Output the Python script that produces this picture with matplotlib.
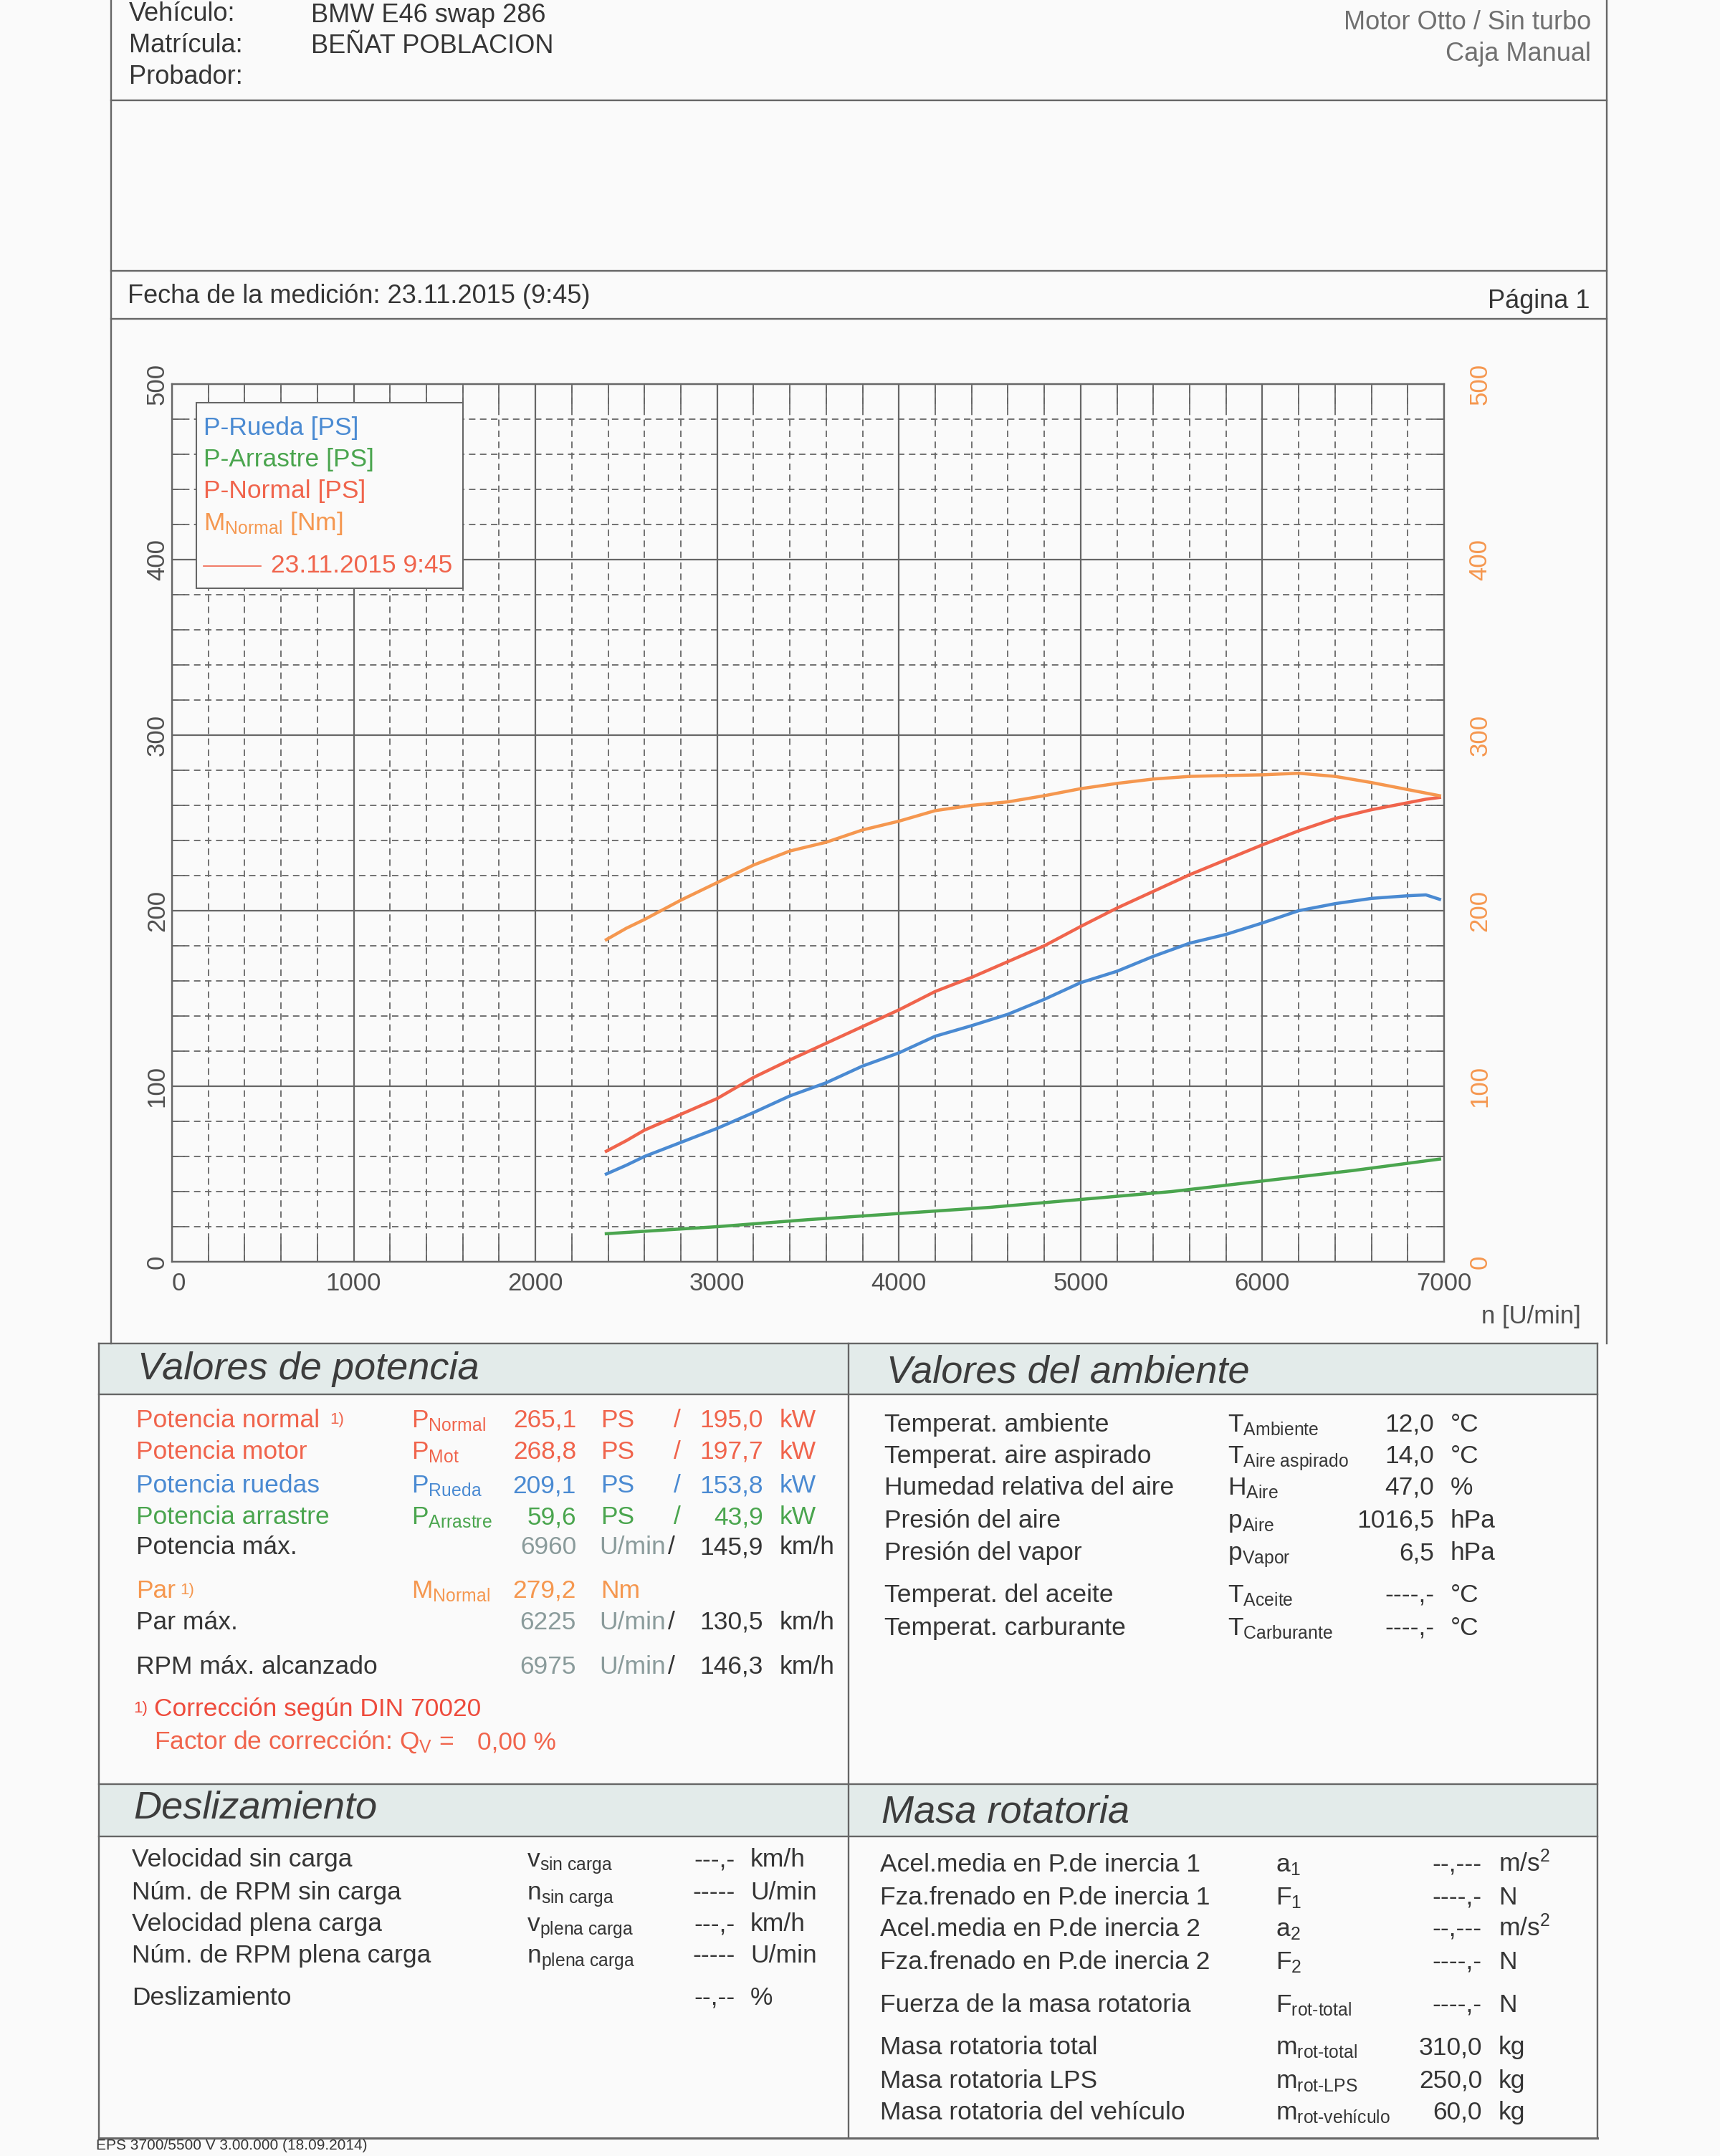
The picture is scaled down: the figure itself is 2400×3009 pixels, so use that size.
import matplotlib.pyplot as plt
from matplotlib.lines import Line2D
from matplotlib.patches import Rectangle
from matplotlib.ticker import MultipleLocator

plt.rcParams['font.family'] = ['Liberation Sans', 'DejaVu Sans']
plt.rcParams['mathtext.fontset'] = 'custom'
plt.rcParams['mathtext.rm'] = 'Liberation Sans'
plt.rcParams['mathtext.it'] = 'Liberation Sans:italic'
plt.rcParams['mathtext.bf'] = 'Liberation Sans:bold'
plt.rcParams['mathtext.default'] = 'regular'

# --- curve values ---
rpm = [2390, 2500, 2600, 2800, 3000, 3200, 3400, 3600, 3800, 4000, 4200, 4400,
       4600, 4800, 5000, 5200, 5400, 5600, 5800, 6000, 6200, 6400, 6600, 6800,
       6900, 6975]
p_normal = [63, 69, 75, 84, 93, 105, 115, 124.5, 134, 143.5, 154, 162,
            171, 180, 191, 201.5, 211, 220.5, 229, 237.5, 245.5, 252.5, 257.5, 261.5,
            263.5, 264.5]
p_rueda = [50, 55, 60, 68, 76, 85, 94.5, 102, 111.5, 119, 128.5, 134.5,
           141, 149.5, 159, 165.5, 174, 181.5, 186.5, 193, 200, 204, 207, 208.5,
           209, 206.5]
m_normal = [183.5, 190, 195, 206, 216, 226, 234, 239, 246, 251, 257, 260,
            262, 265.5, 269.5, 272.5, 275, 276.5, 277, 277.4, 278.3, 276.5, 273, 269,
            267, 265.5]
rpm_arr = [2390, 3000, 3500, 4000, 4500, 5000, 5500, 6000, 6500, 6975]
p_arrastre = [16, 20, 24, 27.5, 31, 35.5, 40, 46, 52, 58.5]

x_ticks = [0, 1000, 2000, 3000, 4000, 5000, 6000, 7000]
y_ticks = [0, 100, 200, 300, 400, 500]

legend_labels = ['P-Rueda [PS]', 'P-Arrastre [PS]', 'P-Normal [PS]', r'M$_{Normal}$ [Nm]']
run_label = '23.11.2015 9:45'

# colours
BG = '#fafafa'
DARK = '#353535'
GRID = '#666666'
RED = '#f0644c'
RED2 = '#ee4b3c'
BLUE = '#4a8ad2'
GREEN = '#4aa54e'
ORANGE = '#f5974f'
GRAYV = '#8a9b9b'
BAND = '#e3ebea'

W, H = 2400, 3009
fig = plt.figure(figsize=(24, 30.09), dpi=100, facecolor=BG)


def put(x, y, s, size=25.5, color=DARK, ha='left', **kw):
    # x, y in reference pixels (y from top, y = vertical centre of the text)
    fig.text(x / W, 1 - (y + 12) / H, s, fontsize=size, color=color, ha=ha,
             va='baseline', **kw)


def line(x0, y0, x1, y1, lw=1.7, color='#666666'):
    fig.add_artist(Line2D([x0 / W, x1 / W], [1 - y0 / H, 1 - y1 / H],
                          transform=fig.transFigure, color=color, lw=lw))


def band(x0, y0, x1, y1):
    fig.add_artist(Rectangle((x0 / W, 1 - y1 / H), (x1 - x0) / W, (y1 - y0) / H,
                             transform=fig.transFigure, facecolor=BAND,
                             edgecolor='none', zorder=0))


# ---- page header ----
line(155, 0, 155, 1875)
line(2242, 0, 2242, 1875)
line(155, 140, 2242, 140)
line(155, 378, 2242, 378)
line(155, 445, 2242, 445)

put(180, 17, 'Vehículo:', 26)
put(180, 61, 'Matrícula:', 26)
put(180, 105, 'Probador:', 26)
put(434, 19, 'BMW E46 swap 286', 26)
put(434, 62, 'BEÑAT POBLACION', 26)
put(2220, 29, 'Motor Otto / Sin turbo', 26, color='#707070', ha='right')
put(2220, 73, 'Caja Manual', 26, color='#707070', ha='right')
put(178, 411, 'Fecha de la medición: 23.11.2015 (9:45)', 26)
put(2218, 418, 'Página 1', 26, ha='right')

# ---- chart ----
ax = fig.add_axes([240 / W, 1 - 1761 / H, (2015 - 240) / W, (1761 - 536) / H])
ax.set_facecolor(BG)
ax.set_xlim(0, 7000)
ax.set_ylim(0, 500)
ax.xaxis.set_major_locator(MultipleLocator(1000))
ax.xaxis.set_minor_locator(MultipleLocator(200))
ax.yaxis.set_major_locator(MultipleLocator(100))
ax.yaxis.set_minor_locator(MultipleLocator(20))
ax.set_axisbelow(True)
ax.grid(which='major', color=GRID, lw=1.6, ls='-')
ax.grid(which='minor', color=GRID, lw=1.3, ls=(0, (5, 3.5)))
for sp in ax.spines.values():
    sp.set_color(GRID)
    sp.set_linewidth(1.7)

ax.plot(rpm, p_rueda, color=BLUE, lw=3.2, zorder=3)
ax.plot(rpm_arr, p_arrastre, color=GREEN, lw=3.2, zorder=3)
ax.plot(rpm, p_normal, color=RED, lw=3.2, zorder=3)

ax2 = ax.twinx()
ax2.set_ylim(0, 500)
ax2.set_yticks(y_ticks)
ax2.plot(rpm, m_normal, color=ORANGE, lw=3.2, zorder=3)
for sp in ax2.spines.values():
    sp.set_visible(False)
ax2.tick_params(axis='y', length=0, pad=24, labelsize=25, labelcolor=ORANGE)
for lbl in ax2.get_yticklabels():
    lbl.set_rotation(90)
    lbl.set_va('center')

ax.set_xticks(x_ticks)
ax.set_yticks(y_ticks)
ax.tick_params(axis='both', which='major', length=0, labelsize=25,
               labelcolor='#505050')
ax.tick_params(axis='x', which='major', pad=10)
ax.tick_params(axis='y', which='major', pad=3)
ax.tick_params(axis='x', which='minor', direction='in', length=25, width=1.3,
               color=GRID, top=True, bottom=True)
ax.tick_params(axis='y', which='minor', direction='in', length=13, width=1.3,
               color=GRID, left=True, right=True)
for lbl in ax.get_yticklabels():
    lbl.set_rotation(90)
    lbl.set_va('center')
ax.get_xticklabels()[0].set_ha('left')

fig.text(2206 / W, 1 - 1837 / H, 'n [U/min]', fontsize=25, color='#505050',
         ha='right', va='center')

# legend box
ax.add_patch(Rectangle((0.019, 0.767), 0.210, 0.212, transform=ax.transAxes,
                       facecolor=BG, edgecolor='#666666', lw=1.5, zorder=5))
leg_colors = [BLUE, GREEN, RED, ORANGE]
leg_y = [0.950, 0.914, 0.878, 0.841]
for lab, c, yy in zip(legend_labels, leg_colors, leg_y):
    ax.text(0.025, yy, lab, transform=ax.transAxes, fontsize=25.5, color=c,
            va='center', zorder=6)
ax.plot([0.025, 0.070], [0.793, 0.793], transform=ax.transAxes, color=RED,
        lw=1.2, zorder=6)
ax.text(0.078, 0.793, run_label, transform=ax.transAxes, fontsize=25.5,
        color=RED, va='center', zorder=6)

# ---- lower tables frame ----
band(138, 1875, 2229, 1946)
band(138, 2490, 2229, 2563)
line(138, 1875, 2229, 1875)
line(138, 1946, 2229, 1946)
line(138, 2490, 2229, 2490)
line(138, 2563, 2229, 2563)
line(138, 2984, 2229, 2984, lw=2.2)
line(138, 1875, 138, 2984)
line(2229, 1875, 2229, 2984)
line(1184, 1875, 1184, 2984)

for x, y, s in [(192, 1911, 'Valores de potencia'), (1237, 1915, 'Valores del ambiente'),
                (186, 2523, 'Deslizamiento'), (1230, 2529, 'Masa rotatoria')]:
    fig.text(x / W, 1 - y / H, s, fontsize=39, style='italic', color='#3c3c3c',
             va='center')

# Valores de potencia
pow_rows = [
    (1980, 'Potencia normal', r'P$_{Normal}$', '265,1', 'PS', '195,0', 'kW', RED),
    (2024, 'Potencia motor', r'P$_{Mot}$', '268,8', 'PS', '197,7', 'kW', RED),
    (2071, 'Potencia ruedas', r'P$_{Rueda}$', '209,1', 'PS', '153,8', 'kW', BLUE),
    (2115, 'Potencia arrastre', r'P$_{Arrastre}$', '59,6', 'PS', '43,9', 'kW', GREEN),
]
for y, lab, sym, v1, u1, v2, u2, c in pow_rows:
    put(190, y, lab, color=c)
    put(574, y, sym, color=c)
    put(804, y, v1, color=c, ha='right')
    put(838, y, u1, color=c)
    put(940, y, '/', color=c)
    put(1065, y, v2, color=c, ha='right')
    put(1088, y, u2, color=c)
put(460, 1975, '1)', size=16, color=RED)

rpm_rows = [
    (2157, 'Potencia máx.', '6960', '145,9'),
    (2262, 'Par máx.', '6225', '130,5'),
    (2324, 'RPM máx. alcanzado', '6975', '146,3'),
]
for y, lab, n, v in rpm_rows:
    put(190, y, lab)
    put(804, y, n, color=GRAYV, ha='right')
    put(836, y, 'U/min', color=GRAYV)
    put(932, y, '/')
    put(1065, y, v, ha='right')
    put(1088, y, 'km/h')

put(190, 2218, 'Par', color=ORANGE)
put(251, 2213, '1)', size=16, color=ORANGE)
put(574, 2218, r'M$_{Normal}$', color=ORANGE)
put(804, 2218, '279,2', color=ORANGE, ha='right')
put(838, 2218, 'Nm', color=ORANGE)

put(186, 2378, '1)', size=16, color=RED2)
put(215, 2383, 'Corrección según DIN 70020', color=RED2)
put(215, 2429, r'Factor de corrección: Q$_V$ =', color=RED)
put(666, 2429, '0,00 %', color=RED)

# Valores del ambiente
env_rows = [
    (1986, 'Temperat. ambiente', r'T$_{Ambiente}$', '12,0', '°C'),
    (2030, 'Temperat. aire aspirado', r'T$_{Aire\ aspirado}$', '14,0', '°C'),
    (2074, 'Humedad relativa del aire', r'H$_{Aire}$', '47,0', '%'),
    (2120, 'Presión del aire', r'p$_{Aire}$', '1016,5', 'hPa'),
    (2165, 'Presión del vapor', r'p$_{Vapor}$', '6,5', 'hPa'),
    (2224, 'Temperat. del aceite', r'T$_{Aceite}$', '----,-', '°C'),
    (2270, 'Temperat. carburante', r'T$_{Carburante}$', '----,-', '°C'),
]
for y, lab, sym, v, u in env_rows:
    put(1234, y, lab)
    put(1713, y, sym)
    put(2001, y, v, ha='right')
    put(2024, y, u)

# Deslizamiento
slip_rows = [
    (2593, 'Velocidad sin carga', r'v$_{sin\ carga}$', '---,-', 'km/h'),
    (2639, 'Núm. de RPM sin carga', r'n$_{sin\ carga}$', '-----', 'U/min'),
    (2683, 'Velocidad plena carga', r'v$_{plena\ carga}$', '---,-', 'km/h'),
    (2727, 'Núm. de RPM plena carga', r'n$_{plena\ carga}$', '-----', 'U/min'),
    (2786, 'Deslizamiento', '', '--,--', '%'),
]
for y, lab, sym, v, u in slip_rows:
    put(184, y, lab)
    if sym:
        put(735, y, sym)
    put(1026, y, v, ha='right')
    put(1047, y, u)

# Masa rotatoria
mass_rows = [
    (2600, 'Acel.media en P.de inercia 1', r'a$_1$', '--,---', r'm/s$^2$'),
    (2646, 'Fza.frenado en P.de inercia 1', r'F$_1$', '----,-', 'N'),
    (2690, 'Acel.media en P.de inercia 2', r'a$_2$', '--,---', r'm/s$^2$'),
    (2736, 'Fza.frenado en P.de inercia 2', r'F$_2$', '----,-', 'N'),
    (2796, 'Fuerza de la masa rotatoria', r'F$_{rot\text{-}total}$', '----,-', 'N'),
    (2855, 'Masa rotatoria total', r'm$_{rot\text{-}total}$', '310,0', 'kg'),
    (2902, 'Masa rotatoria LPS', r'm$_{rot\text{-}LPS}$', '250,0', 'kg'),
    (2946, 'Masa rotatoria del vehículo', r'm$_{rot\text{-}vehículo}$', '60,0', 'kg'),
]
for y, lab, sym, v, u in mass_rows:
    put(1228, y, lab)
    put(1780, y, sym)
    put(2068, y, v, ha='right')
    put(2091, y, u)

fig.text(134 / W, 1 - 3004 / H, 'EPS 3700/5500 V 3.00.000 (18.09.2014)',
         fontsize=15, color=DARK, va='bottom')

fig.savefig('out.png', dpi=100, facecolor=BG)
